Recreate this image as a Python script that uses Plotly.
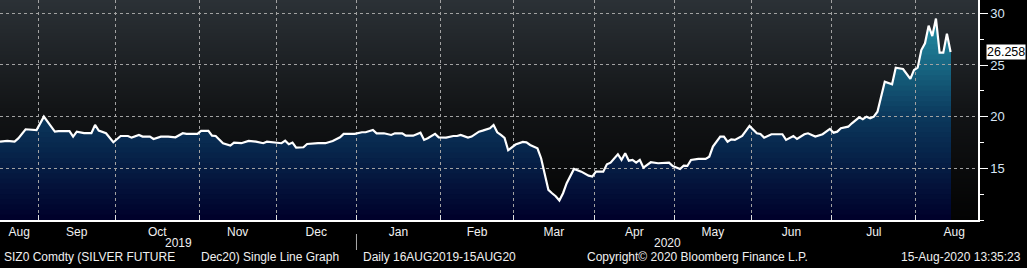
import base64
import struct
import zlib

import numpy as np
import plotly.graph_objects as go
from plotly.colors import sample_colorscale

# ---------------- data ----------------
START = "2019-08-16"
dates = [
    "2019-08-16", "2019-08-20", "2019-08-22", "2019-08-23", "2019-08-27", "2019-08-29", "2019-08-30",
    "2019-09-03", "2019-09-06", "2019-09-09", "2019-09-12", "2019-09-13", "2019-09-16", "2019-09-18",
    "2019-09-20", "2019-09-23", "2019-09-24", "2019-09-26", "2019-09-30", "2019-10-02", "2019-10-04",
    "2019-10-07", "2019-10-09", "2019-10-10", "2019-10-14", "2019-10-15", "2019-10-17", "2019-10-21",
    "2019-10-23", "2019-10-25", "2019-10-28", "2019-10-31", "2019-11-01", "2019-11-05", "2019-11-06",
    "2019-11-07", "2019-11-11", "2019-11-13", "2019-11-14", "2019-11-18", "2019-11-20", "2019-11-22",
    "2019-11-26", "2019-11-27", "2019-11-29", "2019-12-03", "2019-12-04", "2019-12-05", "2019-12-06",
    "2019-12-09", "2019-12-11", "2019-12-12", "2019-12-17", "2019-12-19", "2019-12-23", "2019-12-25",
    "2019-12-26", "2019-12-30", "2019-12-31", "2020-01-02", "2020-01-03", "2020-01-07", "2020-01-08",
    "2020-01-10", "2020-01-14", "2020-01-15", "2020-01-17", "2020-01-20", "2020-01-22", "2020-01-24",
    "2020-01-27", "2020-01-28", "2020-01-30", "2020-01-31", "2020-02-04", "2020-02-06", "2020-02-07",
    "2020-02-10", "2020-02-12", "2020-02-13", "2020-02-17", "2020-02-18", "2020-02-20", "2020-02-21",
    "2020-02-24", "2020-02-25", "2020-02-26", "2020-02-27", "2020-03-02", "2020-03-04", "2020-03-05",
    "2020-03-06", "2020-03-10", "2020-03-11", "2020-03-13", "2020-03-16", "2020-03-17", "2020-03-18",
    "2020-03-19", "2020-03-20", "2020-03-24", "2020-03-26", "2020-03-30", "2020-03-31", "2020-04-01",
    "2020-04-03", "2020-04-06", "2020-04-07", "2020-04-09", "2020-04-10", "2020-04-13", "2020-04-14",
    "2020-04-15", "2020-04-16", "2020-04-17", "2020-04-20", "2020-04-22", "2020-04-24", "2020-04-28",
    "2020-04-29", "2020-04-30", "2020-05-04", "2020-05-05", "2020-05-06", "2020-05-07", "2020-05-11",
    "2020-05-13", "2020-05-14", "2020-05-15", "2020-05-19", "2020-05-20", "2020-05-21", "2020-05-22",
    "2020-05-25", "2020-05-27", "2020-05-29", "2020-06-02", "2020-06-03", "2020-06-04", "2020-06-08",
    "2020-06-10", "2020-06-11", "2020-06-12", "2020-06-16", "2020-06-17", "2020-06-19", "2020-06-22",
    "2020-06-24", "2020-06-26", "2020-06-30", "2020-07-01", "2020-07-02", "2020-07-03", "2020-07-07",
    "2020-07-08", "2020-07-10", "2020-07-13", "2020-07-14", "2020-07-15", "2020-07-16", "2020-07-17",
    "2020-07-20", "2020-07-21", "2020-07-23", "2020-07-24", "2020-07-28", "2020-07-30", "2020-07-31",
    "2020-08-03", "2020-08-04", "2020-08-05", "2020-08-06", "2020-08-07", "2020-08-10", "2020-08-11",
    "2020-08-12", "2020-08-13", "2020-08-14",
]
prices = [
    17.58, 17.65, 17.58, 17.90, 18.78, 18.70, 18.70,
    20.00, 18.55, 18.60, 18.60, 18.07, 18.55, 18.40,
    18.40, 19.20, 18.65, 18.40, 17.52, 18.13, 18.13,
    17.97, 18.23, 18.07, 18.07, 17.84, 18.07, 18.07,
    18.00, 18.40, 18.33, 18.33, 18.62, 18.62, 18.16,
    18.13, 17.43, 17.20, 17.49, 17.43, 17.65, 17.58,
    17.43, 17.58, 17.49, 17.43, 17.68, 17.33, 17.49,
    17.00, 17.04, 17.36, 17.43, 17.43, 17.65, 18.00,
    18.33, 18.33, 18.33, 18.49, 18.49, 18.71, 18.39,
    18.39, 18.23, 18.39, 18.39, 18.16, 18.16, 18.45,
    17.75, 17.91, 18.33, 18.00, 17.97, 18.13, 18.13,
    18.23, 17.97, 18.07, 18.55, 18.65, 18.88, 19.20,
    18.49, 18.23, 17.95, 16.75, 17.30, 17.55, 17.52,
    17.26, 16.94, 15.98, 12.91, 12.59, 12.30, 11.88,
    12.59, 13.56, 14.94, 14.68, 14.29, 14.20, 14.68,
    14.68, 15.39, 15.55, 16.36, 15.81, 16.46, 15.74,
    15.81, 15.55, 15.81, 15.07, 15.59, 15.49, 15.49,
    15.55, 15.23, 14.94, 15.26, 15.23, 15.81, 15.91,
    15.91, 16.13, 17.10, 18.07, 18.07, 17.58, 17.81,
    17.75, 18.13, 19.10, 18.39, 18.33, 17.97, 18.30,
    18.30, 18.30, 17.75, 18.13, 17.84, 18.30, 18.39,
    18.07, 18.30, 18.81, 18.45, 18.55, 18.88, 19.03,
    19.36, 19.94, 19.75, 20.00, 19.84, 20.00, 20.48,
    21.93, 23.38, 23.13, 24.74, 24.61, 23.65, 24.52,
    24.74, 26.45, 27.10, 28.80, 27.80, 29.50, 26.20,
    26.20, 28.03, 26.258,
]
month_starts = [
    "2019-09-01", "2019-10-01", "2019-11-01", "2019-12-01", "2020-01-01", "2020-02-01",
    "2020-03-01", "2020-04-01", "2020-05-01", "2020-06-01", "2020-07-01", "2020-08-01", "2020-09-01",
]
month_names = ["Aug", "Sep", "Oct", "Nov", "Dec", "Jan", "Feb", "Mar", "Apr", "May", "Jun", "Jul", "Aug"]
year_labels = ["2019", "2020"]
y_tick_values = [15, 20, 25, 30]
last_value_text = "26.258"
footer_left = ["SIZ0 Comdty (SILVER FUTURE", "Dec20) Single Line Graph", "Daily 16AUG2019-15AUG20"]
footer_mid = "Copyright\u00a9 2020 Bloomberg Finance L.P."
footer_right = "15-Aug-2020 13:35:23"

# ---------------- scales (trading-day axis) ----------------
x = np.busday_count(np.datetime64(START), np.array(dates, dtype="datetime64[D]")).astype(float)
X_END = 267.5
Y_MIN, Y_MAX = 10.0, 31.29
PLOT_W = 978.0
PLOT_H = 220.0
PX_X = X_END / PLOT_W
PX_Y = (Y_MAX - Y_MIN) / PLOT_H

bounds = np.busday_count(np.datetime64(START), np.array(month_starts, dtype="datetime64[D]")) - 0.5
edges = np.concatenate([[0.0], bounds])
label_pos = (edges[:-1] + edges[1:]) / 2
vis_bounds = [float(b) for b in bounds if b < X_END]
jan_b = float(bounds[4])
year_pos = [(0 + jan_b) / 2, (jan_b + X_END) / 2]

FONT = "Liberation Sans, Arial, sans-serif"
GRID = "#a2a2a2"
AREA_SCALE = [[0, "#00002a"], [0.5, "#0b385c"], [1, "#2596aa"]]


def gradient_png(stops, height=220):
    """1-pixel-wide vertical gradient PNG (top -> bottom) as a data URI."""
    pos = np.array([s[0] for s in stops])
    cols = np.array([[int(s[1][i:i + 2], 16) for i in (1, 3, 5)] for s in stops], dtype=float)
    t = np.linspace(0, 1, height)
    rgb = np.stack([np.interp(t, pos, cols[:, k]) for k in range(3)], axis=1).round().astype(np.uint8)
    raw = b"".join(b"\x00" + bytes(row) for row in rgb)

    def chunk(tag, data):
        c = struct.pack(">I", len(data)) + tag + data
        return c + struct.pack(">I", zlib.crc32(tag + data) & 0xFFFFFFFF)

    png = b"\x89PNG\r\n\x1a\n" + chunk(b"IHDR", struct.pack(">IIBBBBB", 1, height, 8, 2, 0, 0, 0)) \
        + chunk(b"IDAT", zlib.compress(raw)) + chunk(b"IEND", b"")
    return "data:image/png;base64," + base64.b64encode(png).decode()


def clip_curve(xv, yv, level):
    """The drawn polyline capped at `level` (crossing points added on the segments)."""
    xs, ys = [xv[0]], [min(yv[0], level)]
    for i in range(1, len(xv)):
        x0, y0, x1, y1 = xv[i - 1], yv[i - 1], xv[i], yv[i]
        if (y0 - level) * (y1 - level) < 0:
            t = (level - y0) / (y1 - y0)
            xs.append(x0 + t * (x1 - x0))
            ys.append(level)
        xs.append(x1)
        ys.append(min(y1, level))
    return xs, ys


def snap_x(v):
    """Move an x value to the centre of its screen pixel column (crisp 1px line)."""
    return (np.floor(v / PX_X) + 0.5) * PX_X


def snap_y(v):
    """Move a y value to the centre of its screen pixel row (crisp 1px line)."""
    return Y_MAX - (np.floor((Y_MAX - v) / PX_Y) + 0.5) * PX_Y


bg_uri = gradient_png([(0, "#2b3136"), (0.5, "#121416"), (1, "#030303")])

fig = go.Figure()

# gradient area under the curve: stacked solid fills, highest band first (main subplot)
step = 0.5
levels = np.arange(30.0, Y_MIN, -step)
for lv_top in levels:
    frac = (lv_top - step / 2 - Y_MIN) / (30.0 - Y_MIN)
    col = sample_colorscale(AREA_SCALE, [float(np.clip(frac, 0, 1))])[0]
    cx, cy = clip_curve(x, prices, lv_top)
    fig.add_trace(go.Scatter(x=cx, y=cy, mode="lines", line=dict(width=0), fill="tozeroy",
                             fillcolor=col, hoverinfo="skip", showlegend=False))

# ----- overlay subplot (drawn above the filled areas) -----
OV = dict(xaxis="x2", yaxis="y2", showlegend=False)

# dotted grid built from short solid dashes (3px on, 3px off), crisp on pixel centres
gx, gy = [], []
for b in vis_bounds:
    xs = float(snap_x(b))
    for k in range(0, int(PLOT_H), 6):
        gx += [xs, xs, None]
        gy += [Y_MAX - k * PX_Y, Y_MAX - (k + 3) * PX_Y, None]
for v in y_tick_values:
    ys = float(snap_y(v))
    for k in range(0, int(PLOT_W), 6):
        gx += [k * PX_X, (k + 3) * PX_X, None]
        gy += [ys, ys, None]
fig.add_trace(go.Scatter(x=gx, y=gy, mode="lines", line=dict(color=GRID, width=1),
                         connectgaps=False, **OV))

# month tick marks on the x axis (pointing up)
tx, ty = [], []
for b in vis_bounds:
    xs = float(snap_x(b))
    tx += [xs, xs, None]
    ty += [Y_MIN, Y_MIN + 5 * PX_Y, None]
fig.add_trace(go.Scatter(x=tx, y=ty, mode="lines", line=dict(color="#e0e0e0", width=1), **OV))

# price line
fig.add_trace(go.Scatter(x=x, y=prices, mode="lines", line=dict(color="#ffffff", width=2.2), **OV))

# triangle markers for the right-axis ticks
fig.add_trace(go.Scatter(
    x=[X_END + 5 * PX_X] * len(y_tick_values), y=y_tick_values, mode="markers",
    marker=dict(symbol="triangle-right", size=9, color="#ffffff", line=dict(width=0)),
    cliponaxis=False, **OV))

# pointer of the last-value label
fig.add_trace(go.Scatter(
    x=[X_END + 8 * PX_X], y=[prices[-1]], mode="markers",
    marker=dict(symbol="triangle-left", size=15, color="#ffffff", line=dict(width=0)),
    cliponaxis=False, **OV))

shapes = [dict(type="line", xref="x", yref="paper", x0=jan_b, x1=jan_b,
               y0=-14 / PLOT_H, y1=-30 / PLOT_H, line=dict(color="#aaaaaa", width=1))]

annotations = []
for yl, xp in zip(year_labels, year_pos):
    annotations.append(dict(text=yl, x=xp, xref="x", y=0, yref="paper", yanchor="middle",
                            yshift=-23, showarrow=False, font=dict(family=FONT, size=12, color="#f0f0f0")))
foot_font = dict(family=FONT, size=12, color="#f0f0f0")
for txt, px in zip(footer_left, [2, 199, 361]):
    annotations.append(dict(text=txt, x=px / PLOT_W, xref="paper", xanchor="left", y=0, yref="paper",
                            yanchor="middle", yshift=-37, showarrow=False, font=foot_font))
annotations.append(dict(text=footer_mid, x=585 / PLOT_W, xref="paper", xanchor="left", y=0, yref="paper",
                        yanchor="middle", yshift=-37, showarrow=False, font=foot_font))
annotations.append(dict(text=footer_right, x=1023 / PLOT_W, xref="paper", xanchor="right", y=0, yref="paper",
                        yanchor="middle", yshift=-37, showarrow=False, font=foot_font))
annotations.append(dict(text=last_value_text, x=1, xref="paper", xanchor="left", xshift=8,
                        y=prices[-1], yref="y", yanchor="middle", showarrow=False,
                        bgcolor="#ffffff", borderpad=0,
                        font=dict(family=FONT, size=12.5, color="#000000")))

fig.update_layout(
    width=1027, height=268,
    margin=dict(l=0, r=49, t=0, b=48),
    paper_bgcolor="#000000", plot_bgcolor="rgba(0,0,0,0)",
    images=[dict(source=bg_uri, xref="paper", yref="paper", x=0, y=1, sizex=1, sizey=1,
                 sizing="stretch", xanchor="left", yanchor="top", layer="below")],
    shapes=shapes, annotations=annotations,
    hovermode=False,
    xaxis=dict(range=[0, X_END], tickmode="array", tickvals=label_pos, ticktext=month_names,
               ticks="", showgrid=False, zeroline=False,
               showline=True, linecolor="#ffffff", linewidth=1.5,
               tickfont=dict(family=FONT, size=12, color="#f0f0f0")),
    yaxis=dict(range=[Y_MIN, Y_MAX], side="right", tickmode="array", tickvals=y_tick_values,
               ticks="outside", ticklen=8, tickcolor="#ffffff", tickwidth=1,
               showgrid=False, zeroline=False,
               showline=True, linecolor="#ffffff", linewidth=1.5,
               tickfont=dict(family=FONT, size=13, color="#d8e6f6"),
               minor=dict(dtick=2.5, tick0=0, ticks="outside", ticklen=4, tickcolor="#ffffff",
                          showgrid=False)),
    xaxis2=dict(overlaying="x", range=[0, X_END], visible=False, showgrid=False, zeroline=False),
    yaxis2=dict(overlaying="y", range=[Y_MIN, Y_MAX], visible=False, showgrid=False, zeroline=False),
)

fig.write_html("out.html")
